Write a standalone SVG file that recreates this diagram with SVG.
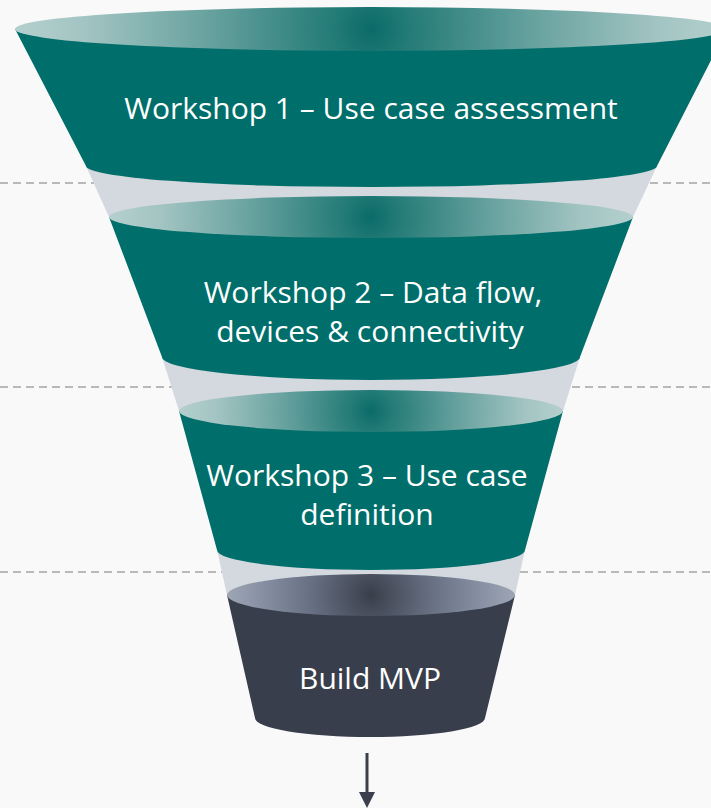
<svg xmlns="http://www.w3.org/2000/svg" width="711" height="808" viewBox="0 0 711 808">
<style>
.bg{fill:#f9f9f9}
.dash{stroke:#b9b9b9;stroke-width:2;stroke-dasharray:8 5;fill:none}
.band{fill:#d4d8df}
.teal{fill:#006e6a}
.dark{fill:#383e4b}
.lbl{font-family:"Open Sans","Noto Sans",sans-serif;font-size:30px;fill:#ffffff;text-anchor:middle}
</style>
<defs>
<radialGradient id="gT1" gradientUnits="userSpaceOnUse" cx="371" cy="29" r="356">
<stop offset="0" stop-color="#0a6b68"/><stop offset="0.1" stop-color="#227a76"/><stop offset="0.45" stop-color="#66a19e"/><stop offset="0.8" stop-color="#a2c4c2"/><stop offset="1" stop-color="#b4d0ce"/>
</radialGradient>
<radialGradient id="gT2" gradientUnits="userSpaceOnUse" cx="371" cy="217" r="262">
<stop offset="0" stop-color="#0a6b68"/><stop offset="0.1" stop-color="#227a76"/><stop offset="0.45" stop-color="#66a19e"/><stop offset="0.8" stop-color="#a2c4c2"/><stop offset="1" stop-color="#b4d0ce"/>
</radialGradient>
<radialGradient id="gT3" gradientUnits="userSpaceOnUse" cx="371" cy="411" r="192">
<stop offset="0" stop-color="#0a6b68"/><stop offset="0.1" stop-color="#227a76"/><stop offset="0.45" stop-color="#66a19e"/><stop offset="0.8" stop-color="#a2c4c2"/><stop offset="1" stop-color="#b4d0ce"/>
</radialGradient>
<radialGradient id="gD" gradientUnits="userSpaceOnUse" cx="371" cy="595" r="144">
<stop offset="0" stop-color="#383e4a"/><stop offset="0.1" stop-color="#454b58"/><stop offset="0.45" stop-color="#6a7386"/><stop offset="0.8" stop-color="#8b94a6"/><stop offset="1" stop-color="#9ea6b5"/>
</radialGradient>
<marker id="arr" markerWidth="16" markerHeight="16" refX="0" refY="8" orient="auto" markerUnits="userSpaceOnUse" viewBox="0 0 16 16">
<path d="M0,0 L16,8 L0,16 Z" fill="#3a3f4b"/>
</marker>
</defs>
<rect class="bg" x="0" y="0" width="711" height="808"/>
<g id="guides">
<line class="dash" x1="0" y1="183" x2="711" y2="183"/>
<line class="dash" x1="0" y1="387" x2="711" y2="387"/>
<line class="dash" x1="0" y1="572" x2="711" y2="572"/>
</g>
<g id="bands">
<polygon class="band" points="86,166 657,166 633,217 109,217"/>
<polygon class="band" points="162,357 580,357 563,411 179,411"/>
<polygon class="band" points="217,550 525,550 515,595 227,595"/>
</g>
<g id="stage1">
<path class="teal" d="M15,29 L86,166 A285.5 21 0 0 0 657,166 L727,29 Z"/>
<ellipse cx="371" cy="29" rx="356" ry="22" fill="url(#gT1)"/>
<text class="lbl" x="371" y="119">Workshop 1 – Use case assessment</text>
</g>
<g id="stage2">
<path class="teal" d="M109,217 L162,357 A209 23 0 0 0 580,357 L633,217 Z"/>
<ellipse cx="371" cy="217" rx="262" ry="21" fill="url(#gT2)"/>
<text class="lbl" x="373" y="303">Workshop 2 – Data flow,</text>
<text class="lbl" x="370" y="342">devices &amp; connectivity</text>
</g>
<g id="stage3">
<path class="teal" d="M179,411 L217,550 A154 20 0 0 0 525,550 L563,411 Z"/>
<ellipse cx="371" cy="411" rx="192" ry="21" fill="url(#gT3)"/>
<text class="lbl" x="367" y="486">Workshop 3 – Use case</text>
<text class="lbl" x="367" y="525">definition</text>
</g>
<g id="stage4">
<path class="dark" d="M227,595 L255,718 A115 19 0 0 0 485,718 L515,595 Z"/>
<ellipse cx="371" cy="595" rx="144" ry="21" fill="url(#gD)"/>
<text class="lbl" x="370" y="689">Build MVP</text>
</g>
<g id="connectors">
<line x1="367" y1="753" x2="367" y2="792" stroke="#3a3f4b" stroke-width="3" marker-end="url(#arr)"/>
</g>
</svg>
